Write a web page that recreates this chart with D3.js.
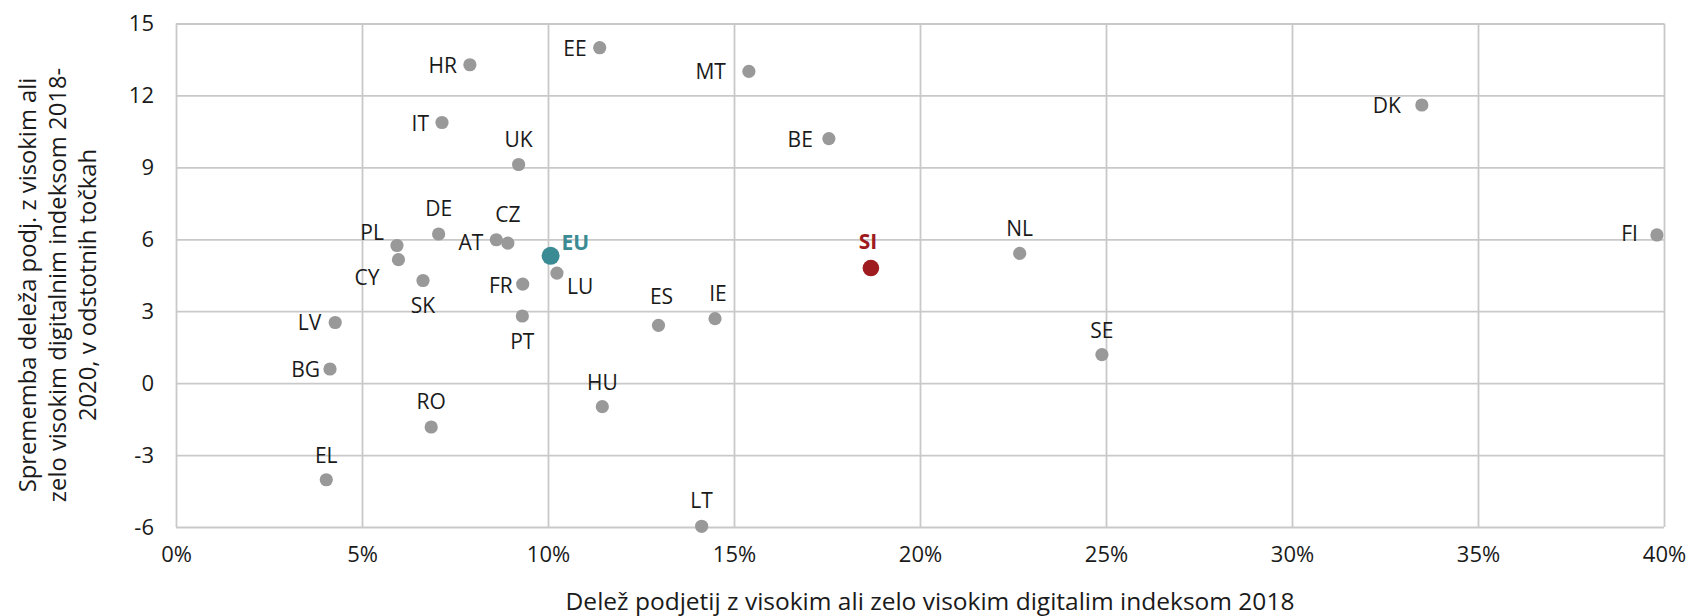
<!DOCTYPE html>
<html>
<head>
<meta charset="utf-8">
<script src="https://cdn.jsdelivr.net/npm/d3@7"></script>
<style>
  body { margin: 0; background: #fff; }
  svg text { font-family: "Open Sans", "Noto Sans", sans-serif; fill: #1a1a1a; }
  .grid line { stroke: #c9c9c9; stroke-width: 1.8; }
</style>
</head>
<body>
<div id="chart"></div>
<script>
// data
var countries = ['HR','EE','MT','DK','IT','BE','UK','DE','PL','CY','AT','CZ','EU','LU','SK','FR','PT','LV','BG','RO','EL','ES','IE','HU','LT','SE','SI','NL','FI'];
var share2018 = [7.90,11.39,15.40,33.49,7.15,17.55,9.21,7.06,5.94,5.98,8.61,8.92,10.07,10.24,6.64,9.32,9.31,4.28,4.14,6.86,4.04,12.97,14.49,11.46,14.13,24.89,18.68,22.68,39.81];
var change1820 = [13.28,13.99,13.0,11.60,10.87,10.2,9.12,6.22,5.74,5.15,5.98,5.84,5.31,4.59,4.28,4.13,2.8,2.53,0.59,-1.83,-4.03,2.41,2.69,-0.98,-5.97,1.19,4.8,5.41,6.18];
var xTicks = [0,5,10,15,20,25,30,35,40];
var yTicks = [-6,-3,0,3,6,9,12,15];

var xTitle = 'Delež podjetij z visokim ali zelo visokim digitalim indeksom 2018';
var yTitle = ['Sprememba deleža podj. z visokim ali', 'zelo visokim digitalnim indeksom 2018-', '2020, v odstotnih točkah'];

// label placement: [anchor, dx, dy]
var labelPos = {
  HR:['end',-13,0], EE:['end',-13,0], MT:['end',-23,0], DK:['end',-21,0], IT:['end',-13,0], BE:['end',-16,0],
  UK:['middle',0,-25], DE:['middle',0,-26], CZ:['middle',0,-29], AT:['end',-13,2], PL:['end',-13,-14], CY:['end',-19,17],
  SK:['middle',0,24], FR:['end',-10,1], LU:['start',10,13], EU:['start',11,-14], LV:['end',-14,0], BG:['end',-10,0],
  RO:['middle',0,-26], EL:['middle',0,-25], PT:['middle',0,25], ES:['middle',3,-29], IE:['middle',3,-26], HU:['middle',0,-25],
  LT:['middle',0,-26], SE:['middle',0,-25], SI:['middle',-3,-27], NL:['middle',0,-25], FI:['end',-19,-2]
};
var special = { EU: '#3b8b94', SI: '#9e1b20' };

drawChart();

function drawChart() {
  var data = countries.map(function(c, i) {
    return { code: c, x: share2018[i], y: change1820[i] };
  });

  var W = 1690, H = 616;
  var margin = { left: 176, right: 1664, top: 23.5, bottom: 527 };

  var svg = d3.select('#chart').append('svg').attr('width', W).attr('height', H);

  var x = d3.scaleLinear().domain([0, 40]).range([margin.left, margin.right]);
  var y = d3.scaleLinear().domain([-6, 15]).range([margin.bottom, margin.top]);

  svg.append('g')
    .attr('class', 'grid')
    .attr('transform', 'translate(' + margin.left + ',0)')
    .call(d3.axisLeft(y).tickValues(yTicks).tickSize(-(margin.right - margin.left)).tickPadding(22)
      .tickFormat(function(d) { return String(d); }))
    .call(function(g) {
      g.select('.domain').remove();
      g.selectAll('text').style('font-size', '22px').attr('fill', '#1a1a1a');
    });

  svg.append('g')
    .attr('class', 'grid')
    .attr('transform', 'translate(0,' + margin.bottom + ')')
    .call(d3.axisBottom(x).tickValues(xTicks).tickSize(-(margin.bottom - margin.top)).tickPadding(19)
      .tickFormat(function(d) { return d + '%'; }))
    .call(function(g) {
      g.select('.domain').remove();
      g.selectAll('text').style('font-size', '22px').attr('fill', '#1a1a1a');
    });

  svg.append('text')
    .attr('x', 930).attr('y', 600)
    .attr('text-anchor', 'middle').attr('dominant-baseline', 'central')
    .style('font-size', '24.5px')
    .text(xTitle);

  var yt = svg.append('text')
    .attr('transform', 'translate(0,285) rotate(-90)')
    .attr('text-anchor', 'middle')
    .style('font-size', '23.8px');
  yTitle.forEach(function(t, i) {
    yt.append('tspan').attr('x', 0).attr('y', 27 + i * 30)
      .attr('dominant-baseline', 'central').text(t);
  });

  svg.selectAll('circle.dot')
    .data(data).enter()
    .append('circle')
    .attr('class', 'dot')
    .attr('cx', function(d) { return x(d.x); })
    .attr('cy', function(d) { return y(d.y); })
    .attr('r', function(d) { return d.code == 'EU' ? 9 : (d.code == 'SI' ? 8.3 : 6.6); })
    .attr('fill', function(d) { return special[d.code] || '#999999'; });

  svg.selectAll('text.lbl')
    .data(data).enter()
    .append('text')
    .attr('class', 'lbl')
    .attr('x', function(d) { return x(d.x) + labelPos[d.code][1]; })
    .attr('y', function(d) { return y(d.y) + labelPos[d.code][2]; })
    .attr('text-anchor', function(d) { return labelPos[d.code][0]; })
    .attr('dominant-baseline', 'central')
    .style('font-size', '21px')
    .style('font-weight', function(d) { return special[d.code] ? 'bold' : 'normal'; })
    .style('fill', function(d) { return special[d.code] || '#1a1a1a'; })
    .text(function(d) { return d.code; });
}
</script>
</body>
</html>
